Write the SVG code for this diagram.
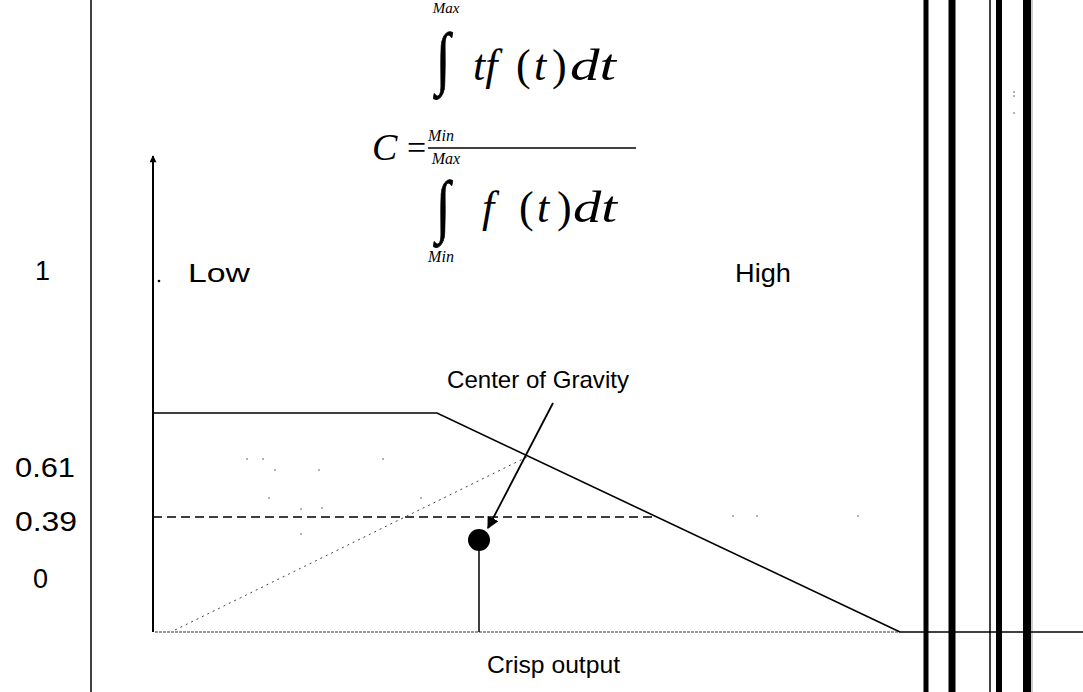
<svg xmlns="http://www.w3.org/2000/svg" width="1083" height="692" viewBox="0 0 1083 692">
<defs>
<style>
.m{font-family:"Liberation Serif","Times New Roman",serif;font-style:italic;fill:#000}
.n{font-style:normal}
.lbl{font-family:"Liberation Sans",Arial,sans-serif;fill:#000}
.ln{stroke:#000;fill:none}
.bar{stroke:#000}
.dot{fill:#555}
</style>
<marker id="ah" viewBox="0 0 10 10" refX="9" refY="5" markerWidth="12" markerHeight="12" markerUnits="userSpaceOnUse" orient="auto">
<path d="M0,0 L10,5 L0,10 z" fill="#000"/>
</marker>
<marker id="ax" viewBox="0 0 10 10" refX="9" refY="5" markerWidth="9" markerHeight="7" markerUnits="userSpaceOnUse" orient="auto">
<path d="M0,0 L10,5 L0,10 z" fill="#000"/>
</marker>
</defs>
<rect width="1083" height="692" fill="#fff"/>

<g id="frame">
<line class="ln" x1="91" y1="0" x2="91" y2="692" stroke-width="1.5"/>
<line class="bar" x1="926" y1="0" x2="926" y2="692" stroke-width="5"/>
<line class="bar" x1="952" y1="0" x2="952" y2="692" stroke-width="7"/>
<line class="bar" x1="990" y1="0" x2="990" y2="692" stroke-width="1.5"/>
<line class="bar" x1="999" y1="0" x2="999" y2="692" stroke-width="6"/>
<line class="bar" x1="1027" y1="0" x2="1027" y2="692" stroke-width="8"/>
<line x1="1032" y1="0" x2="1032" y2="692" stroke="#999" stroke-width="1"/>
</g>

<g id="formula">
<text class="m" x="446" y="13" font-size="15" text-anchor="middle">Max</text>
<text class="m n" x="436" y="66" font-size="52" transform="translate(0,-7) scale(1,1.33)" stroke="#000" stroke-width="0.6">∫</text>
<text class="m" x="473" y="80" font-size="44">tf</text>
<text class="m n" x="516" y="80" font-size="44">(</text>
<text class="m" x="534" y="80" font-size="44">t</text>
<text class="m n" x="552" y="80" font-size="44">)</text>
<text class="m" x="570" y="80" font-size="44" textLength="46" lengthAdjust="spacingAndGlyphs">dt</text>
<text class="m" x="441" y="141" font-size="16" text-anchor="middle">Min</text>
<line class="ln" x1="428" y1="148" x2="636" y2="148" stroke-width="1.5"/>
<text class="m" x="372" y="160" font-size="38">C</text>
<text class="m n" x="407" y="159" font-size="34">=</text>
<text class="m" x="446" y="164" font-size="16" text-anchor="middle">Max</text>
<text class="m n" x="436" y="210" font-size="52" transform="translate(0,-50) scale(1,1.33)" stroke="#000" stroke-width="0.6">∫</text>
<text class="m" x="482" y="222" font-size="44">f</text>
<text class="m n" x="519" y="222" font-size="44">(</text>
<text class="m" x="537" y="222" font-size="44">t</text>
<text class="m n" x="557" y="222" font-size="44">)</text>
<text class="m" x="573" y="222" font-size="44" textLength="44" lengthAdjust="spacingAndGlyphs">dt</text>
<text class="m" x="441" y="262" font-size="16" text-anchor="middle">Min</text>
</g>

<g id="ylabels">
<text class="lbl" x="35" y="280" font-size="27">1</text>
<text class="lbl" x="15" y="477" font-size="27" textLength="60" lengthAdjust="spacingAndGlyphs">0.61</text>
<text class="lbl" x="15" y="531" font-size="27" textLength="62" lengthAdjust="spacingAndGlyphs">0.39</text>
<text class="lbl" x="33" y="588" font-size="27">0</text>
</g>

<g id="low"><text class="lbl" x="188" y="282" font-size="26" textLength="62" lengthAdjust="spacingAndGlyphs">Low</text>
<circle cx="159" cy="281" r="1.3" fill="#000"/></g>
<g id="high"><text class="lbl" x="735" y="282" font-size="26" textLength="56" lengthAdjust="spacingAndGlyphs">High</text></g>
<g id="cog-label"><text class="lbl" x="447" y="388" font-size="24" textLength="182" lengthAdjust="spacingAndGlyphs">Center of Gravity</text></g>
<g id="crisp-label"><text class="lbl" x="487" y="673" font-size="24" textLength="133" lengthAdjust="spacingAndGlyphs">Crisp output</text></g>

<g id="connectors">
<line class="ln" x1="153" y1="632" x2="153" y2="156" stroke-width="2" marker-end="url(#ax)"/>
<line x1="155" y1="632" x2="900" y2="632" stroke="#333" stroke-width="1.2" stroke-dasharray="3,1"/>
<line class="ln" x1="900" y1="632" x2="1083" y2="632" stroke-width="1.5"/>
<polyline class="ln" points="153,413 437,413 900,632" stroke-width="1.6"/>
<line class="ln" x1="153" y1="517" x2="655" y2="517" stroke-width="1.6" stroke-dasharray="9,5"/>
<line x1="175" y1="630" x2="527" y2="457" stroke="#444" stroke-width="1" stroke-dasharray="2,4"/>
<line class="ln" x1="479" y1="551" x2="479" y2="632" stroke-width="1.5"/>
<line class="ln" x1="553" y1="403" x2="488" y2="528" stroke-width="1.8" marker-end="url(#ah)"/>
</g>

<g id="cog"><circle cx="479" cy="540" r="11" fill="#000"/></g>

<g id="specks">
<circle class="dot" cx="247" cy="459" r="0.8"/>
<circle class="dot" cx="263" cy="459" r="0.8"/>
<circle class="dot" cx="275" cy="470" r="0.8"/>
<circle class="dot" cx="319" cy="470" r="0.8"/>
<circle class="dot" cx="383" cy="459" r="0.8"/>
<circle class="dot" cx="269" cy="498" r="0.8"/>
<circle class="dot" cx="301" cy="509" r="0.8"/>
<circle class="dot" cx="322" cy="508" r="0.8"/>
<circle class="dot" cx="421" cy="498" r="0.8"/>
<circle class="dot" cx="301" cy="534" r="0.8"/>
<circle class="dot" cx="733" cy="516" r="0.8"/>
<circle class="dot" cx="757" cy="516" r="0.8"/>
<circle class="dot" cx="858" cy="516" r="0.8"/>
<circle class="dot" cx="1014" cy="92" r="0.8"/>
<circle class="dot" cx="1014" cy="96" r="0.8"/>
<circle class="dot" cx="1014" cy="113" r="0.8"/>
</g>
</svg>
